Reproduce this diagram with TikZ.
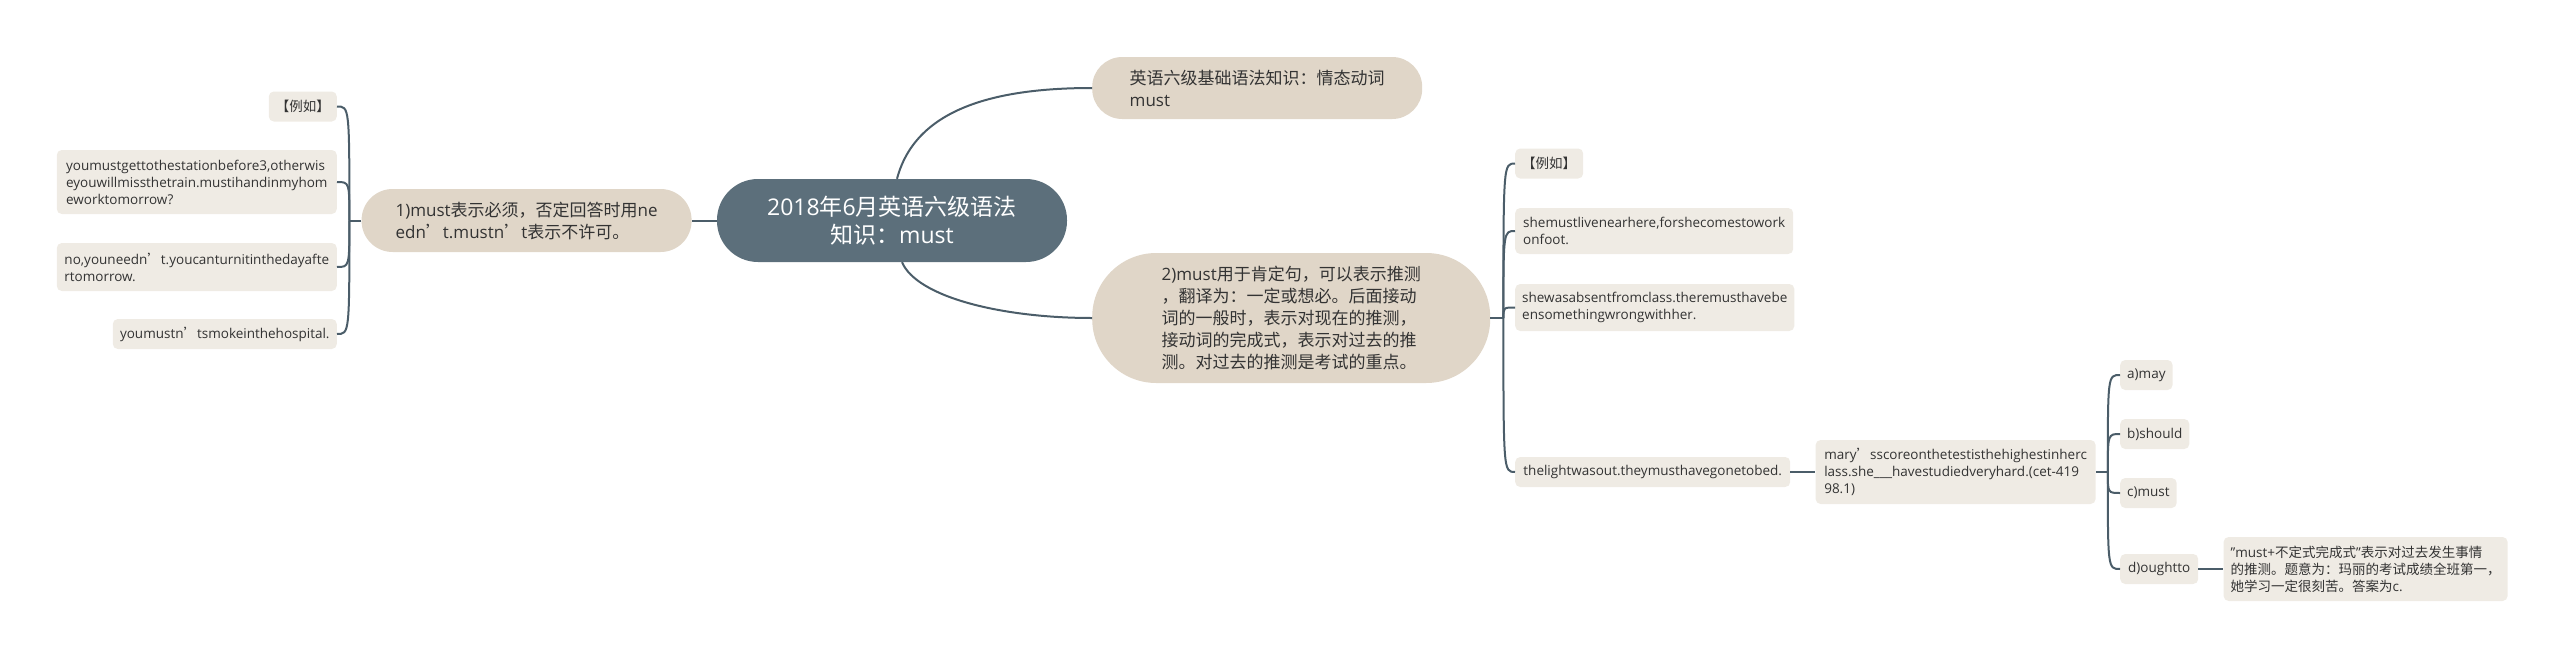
\documentclass[tikz,border=0pt]{standalone}
\usepackage{fontspec}
\setmainfont{Open Sans}
\newfontfamily\cjkfont{Noto Sans CJK SC}
\usepackage{tikz}
\usetikzlibrary{positioning}
\definecolor{rootcol}{HTML}{5C6F7B}
\definecolor{subcol}{HTML}{E0D6C8}
\definecolor{leafcol}{HTML}{EFEBE4}
\definecolor{wirecol}{HTML}{4B5D69}
\definecolor{txtcol}{HTML}{333333}

% CJK runs switch to the CJK family
\XeTeXinterchartokenstate=1
\chardef\cjkcls=7
\newcount\cjkc
\def\setcls#1#2#3{\cjkc=#1\relax
  \loop\XeTeXcharclass\cjkc=#3\relax
  \ifnum\cjkc<#2\relax\advance\cjkc by 1\repeat}
\setcls{"21}{"7E}{0}
\setcls{"3000}{"303F}{\cjkcls}
\setcls{"4E00}{"9FFF}{\cjkcls}
\setcls{"FF00}{"FFEF}{\cjkcls}
\XeTeXcharclass"2019=\cjkcls
\XeTeXinterchartoks 0 \cjkcls={\cjkfont}
\XeTeXinterchartoks 4095 \cjkcls={\cjkfont}
\XeTeXinterchartoks \cjkcls 0={\rmfamily}
\XeTeXinterchartoks \cjkcls 4095={\rmfamily}

\begin{document}
\begin{tikzpicture}[x=1pt,y=-1pt,
   root/.style={fill=rootcol,text=white,rounded corners=41pt,minimum width=350pt,
                minimum height=83pt,align=center,font=\fontsize{23}{28}\selectfont},
   sub/.style={fill=subcol,text=txtcol,align=left,inner xsep=31pt,inner ysep=6pt,
               minimum width=330pt,font=\fontsize{17}{22}\selectfont},
   leaf/.style={fill=leafcol,text=txtcol,rounded corners=5pt,align=left,
                inner xsep=7pt,inner ysep=6pt,minimum height=30pt,
                font=\fontsize{13.5}{17}\selectfont},
   wire/.style={draw=wirecol,line width=2pt},
]
\useasboundingbox (0,0) rectangle (2560,659);

% ----- centre and main branches
\node[root] (root) at (892,220.5) {2018年6月英语六级语法\\知识：must};
\node[sub,left=25pt of root,minimum height=63pt,rounded corners=31pt] (must1)
   {1)must表示必须，否定回答时用ne\\edn’t.mustn’t表示不许可。};
\node[sub,anchor=west,minimum height=62pt,rounded corners=30pt] (topic) at (1092,88)
   {英语六级基础语法知识：情态动词\\must};
\node[sub,anchor=west,minimum width=398pt,minimum height=130pt,
      rounded corners=64pt] (must2) at (1092,318)
   {2)must用于肯定句，可以表示推测\\，翻译为：一定或想必。后面接动\\词的一般时，表示对现在的推测，\\接动词的完成式，表示对过去的推\\测。对过去的推测是考试的重点。};

% ----- left leaves
\node[leaf,anchor=east,minimum width=66pt] (ex1) at (337,106.5) {【例如】};
\node[leaf,anchor=east,minimum width=280pt,minimum height=64pt] (lf1) at (337,182)
   {youmustgettothestationbefore3,otherwis\\eyouwillmissthetrain.mustihandinmyhom\\eworktomorrow?};
\node[leaf,anchor=east,minimum width=280pt,minimum height=48pt] (lf2) at (337,267)
   {no,youneedn’t.youcanturnitinthedayafte\\rtomorrow.};
\node[leaf,anchor=east,minimum width=224pt] (lf3) at (337,334)
   {youmustn’tsmokeinthehospital.};

% ----- right leaves
\node[leaf,anchor=west,minimum width=65pt] (ex2) at (1515,163.5) {【例如】};
\node[leaf,anchor=west,minimum width=278pt,minimum height=46pt] (rt1) at (1515,231)
   {shemustlivenearhere,forshecomestowork\\onfoot.};
\node[leaf,anchor=west,minimum width=278pt,minimum height=47pt] (rt2) at (1515,307.5)
   {shewasabsentfromclass.theremusthavebe\\ensomethingwrongwithher.};
\node[leaf,anchor=west,minimum width=275pt] (rt3) at (1515,472)
   {thelightwasout.theymusthavegonetobed.};
\node[leaf,right=25pt of rt3,minimum width=280pt,minimum height=64pt] (mary)
   {mary’sscoreonthetestisthehighestinherc\\lass.she\_\_\_havestudiedveryhard.(cet-419\\98.1)};

% ----- answer options
\node[leaf,anchor=west,minimum width=52pt] (opa) at (2120,375) {a)may};
\node[leaf,anchor=west,minimum width=68pt] (opb) at (2120,434) {b)should};
\node[leaf,anchor=west,minimum width=56pt] (opc) at (2120,493) {c)must};
\node[leaf,anchor=west,minimum width=78pt] (opd) at (2120,569) {d)oughtto};
\node[leaf,right=25pt of opd,minimum width=280pt,minimum height=64pt] (expl)
   {"must+不定式完成式"表示对过去发生事情\\的推测。题意为：玛丽的考试成绩全班第一，\\她学习一定很刻苦。答案为c.};

% ----- wires
\draw[wire] (root.west) -- (must1.east);
\draw[wire] ([xshift=5pt]root.north) .. controls +(18,-68) and +(-102,0) .. (topic.west);
\draw[wire] ([xshift=10pt]root.south) .. controls +(15,35) and +(-90,0) .. (must2.west);

\coordinate (lsp) at ([xshift=-12pt]must1.west);
\draw[wire] (must1.west) -- (lsp);
\foreach \n in {ex1,lf1,lf2,lf3}
   \draw[wire] (lsp) .. controls (lsp |- \n.east) .. (\n.east);

\coordinate (rsp) at ([xshift=13pt]must2.east);
\draw[wire] (must2.east) -- (rsp);
\foreach \n in {ex2,rt1,rt2,rt3}
   \draw[wire] (rsp) .. controls (rsp |- \n.west) .. (\n.west);

\draw[wire] (rt3.east) -- (mary.west);
\coordinate (osp) at ([xshift=12pt]mary.east);
\draw[wire] (mary.east) -- (osp);
\foreach \n in {opa,opb,opc,opd}
   \draw[wire] (osp) .. controls (osp |- \n.west) .. (\n.west);
\draw[wire] (opd.east) -- (expl.west);
\end{tikzpicture}
\end{document}
